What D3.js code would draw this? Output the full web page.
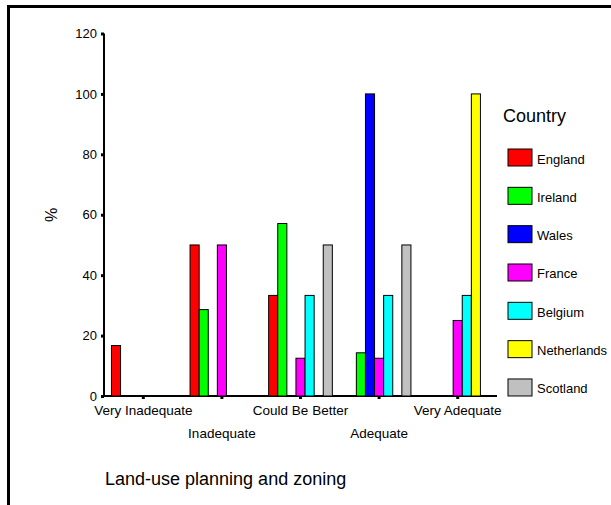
<!DOCTYPE html>
<html><head><meta charset="utf-8">
<script src="https://cdn.jsdelivr.net/npm/d3@7"></script>
<style>
html,body{margin:0;padding:0;background:#fff;}
svg{display:block;font-family:"Liberation Sans",Arial,Helvetica,sans-serif;}
</style></head>
<body><svg id="c" width="611" height="505"></svg>
<script>
const categories = ["Very Inadequate","Inadequate","Could Be Better","Adequate","Very Adequate"];
const countries = ["England","Ireland","Wales","France","Belgium","Netherlands","Scotland"];
const colors = ["#ff0000","#00ff00","#0000ff","#ff00ff","#00ffff","#ffff00","#c0c0c0"];
const England     = [16.7, 50, 33.3, 0, 0];
const Ireland     = [0, 28.6, 57.1, 14.3, 0];
const Wales       = [0, 0, 0, 100, 0];
const France      = [0, 50, 12.5, 12.5, 25];
const Belgium     = [0, 0, 33.3, 33.3, 33.3];
const Netherlands = [0, 0, 0, 0, 100];
const Scotland    = [0, 0, 50, 50, 0];
const yTicks = [0,20,40,60,80,100,120];
const series = [England, Ireland, Wales, France, Belgium, Netherlands, Scotland];

const svg = d3.select("#c");
// frame
svg.append("path").attr("d","M8.5,505V6.5H611").attr("fill","none").attr("stroke","#000").attr("stroke-width",3);

const x0 = d3.scaleBand().domain(categories).range([104,497]).paddingInner(0).paddingOuter(0);
const x1 = d3.scaleBand().domain(countries).range([0,x0.bandwidth()]).paddingOuter(0.82).paddingInner(0);
const y = d3.scaleLinear().domain([0,120]).range([396,33.5]);

// y axis
const ya = svg.append("g").attr("transform","translate(104,0)")
  .call(d3.axisLeft(y).tickValues(yTicks).tickSize(3).tickPadding(4));
ya.select(".domain").attr("stroke-width",2).attr("d","M0,"+y(120)+"V"+y(0));
ya.selectAll(".tick line").attr("stroke-width",3);
ya.selectAll("text").attr("font-size",13).attr("fill","#000").attr("font-family","Liberation Sans, Arial, sans-serif");

// x axis
const xa = svg.append("g").attr("transform","translate(0,396)")
  .call(d3.axisBottom(x0).tickSize(3).tickPadding(0));
xa.select(".domain").attr("stroke-width",2).attr("d","M104,0H497");
xa.selectAll(".tick line").attr("stroke-width",3);
xa.selectAll("text").attr("font-size",13.5).attr("fill","#000").attr("font-family","Liberation Sans, Arial, sans-serif")
  .attr("dy",null).attr("y",(d,i)=> i%2===0 ? 19 : 42);

// bars (drawn over the axis so zero-value bars show as a thin line)
const g = svg.append("g");
categories.forEach((c,ci)=>{
  countries.forEach((k,ki)=>{
    const v = series[ki][ci];
    g.append("rect")
      .attr("x", x0(c)+x1(k)).attr("width", x1.bandwidth())
      .attr("y", y(v)-(v===0?1:0)).attr("height", y(0)-y(v))
      .attr("fill", colors[ki]).attr("stroke", v===0 ? "#999" : "#000").attr("stroke-width",1);
  });
});

// y label
svg.append("text").attr("transform","translate(57,215) rotate(-90)").attr("text-anchor","middle")
  .attr("font-size",16).text("%");

// legend
svg.append("text").attr("x",503).attr("y",121.5).attr("font-size",18).text("Country");
countries.forEach((k,i)=>{
  const yy = 149 + i*38.33;
  svg.append("rect").attr("x",508).attr("y",yy).attr("width",24).attr("height",17)
    .attr("fill",colors[i]).attr("stroke","#000").attr("stroke-width",1);
  svg.append("text").attr("x",537).attr("y",yy+14.5).attr("font-size",13).text(k);
});

// title
svg.append("text").attr("x",105).attr("y",485).attr("font-size",18).text("Land-use planning and zoning");
</script></body></html>
